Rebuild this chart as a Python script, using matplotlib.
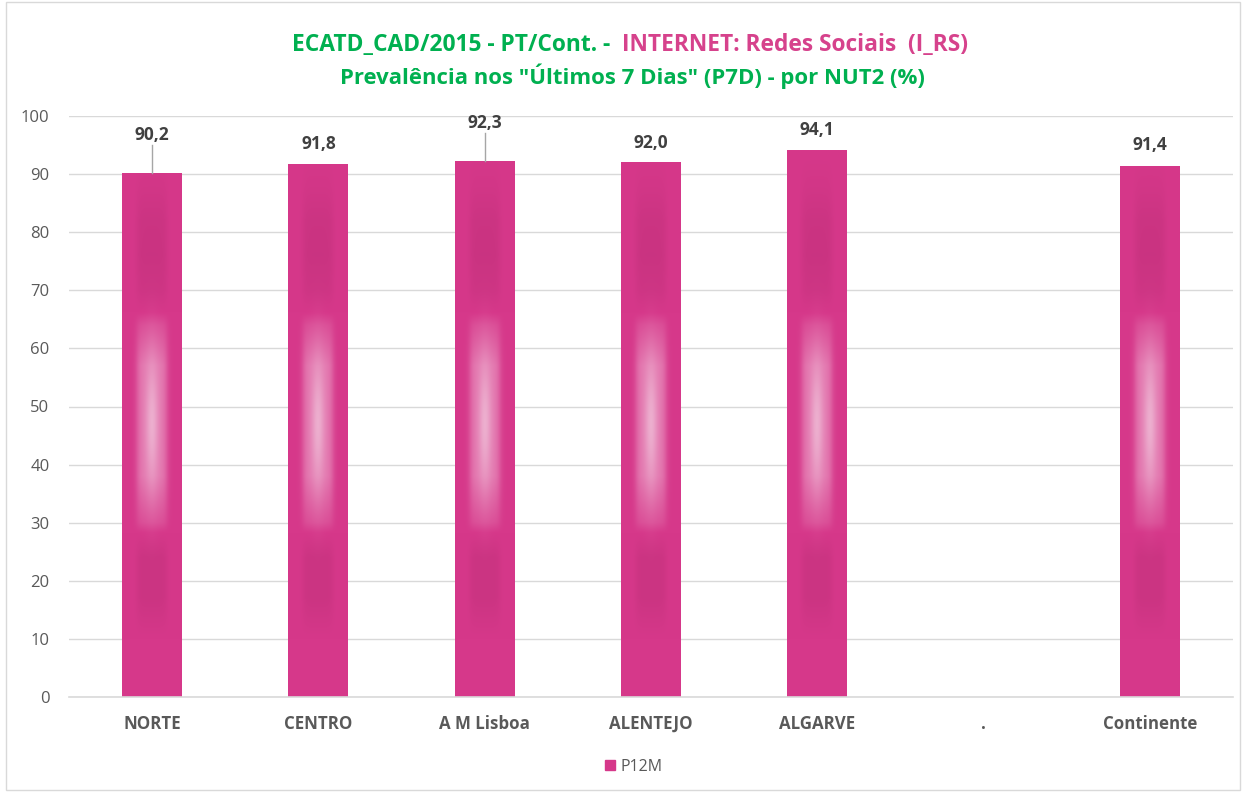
import numpy as np
import matplotlib
matplotlib.use("Agg")
import matplotlib.pyplot as plt
from matplotlib.patches import Rectangle, Patch
from matplotlib.colors import to_rgb

# ---- data ----
categories = ["NORTE", "CENTRO", "A M Lisboa", "ALENTEJO", "ALGARVE", ".", "Continente"]
values = [90.2, 91.8, 92.3, 92.0, 94.1, None, 91.4]
series_name = "P12M"
yticks = [0, 10, 20, 30, 40, 50, 60, 70, 80, 90, 100]
title_l1_a = "ECATD_CAD/2015 - PT/Cont. -  "
title_l1_b = "INTERNET: Redes Sociais  (I_RS)"
title_l2 = 'Prevalência nos "Últimos 7 Dias" (P7D) - por NUT2 (%)'

# label offsets above bar top (pixels) and leader lines
label_offset_px = [38, 20, 38, 19, 20, 0, 21]
leader = [True, False, True, False, False, False, False]

GREEN = "#00B050"
PINK_T = "#D6428C"
BASE = np.array(to_rgb("#D6388A"))
DARK = np.array(to_rgb("#B02A6E"))
WHITE = np.array([1.0, 1.0, 1.0])
GRAY = "#595959"
GRID = "#D9D9D9"

W, H = 1246, 792
fig = plt.figure(figsize=(W / 100, H / 100), dpi=100)
fig.patch.set_facecolor("white")
ax = fig.add_axes([69 / W, 1 - 697 / H, (1233 - 69) / W, (697 - 116) / H])

n = len(categories)
ax.set_xlim(-0.5, n - 0.5)
ax.set_ylim(0, 100)
ax.set_yticks(yticks)
ax.set_yticklabels([str(t) for t in yticks], fontsize=12, color=GRAY, family="Open Sans")
ax.set_xticks(range(n))
ax.set_xticklabels(categories, fontsize=12.2, color=GRAY, fontweight="bold", family="Open Sans")
ax.tick_params(axis="both", length=0)
ax.tick_params(axis="y", pad=14)
ax.tick_params(axis="x", pad=13)
for s in ["top", "right", "left"]:
    ax.spines[s].set_visible(False)
ax.spines["bottom"].set_color(GRID)
ax.spines["bottom"].set_linewidth(1.2)
ax.yaxis.grid(True, color=GRID, linewidth=1.0)
ax.set_axisbelow(True)

bw = 0.36

# gradient texture
nx, ny = 80, 400
u = np.linspace(-1, 1, nx)
m_col = 1.0 / (1.0 + np.exp((np.abs(u) - 0.5) / 0.06))  # inner column mask
vk = [0, 10, 17, 24, 30, 38, 57, 64, 70, 76, 82, 88, 94, 100]
fk = [0, 0, -0.28, -0.28, 0.12, 0.32, 0.32, 0.12, -0.22, -0.32, -0.28, -0.1, 0, 0]


def texture(top):
    v = np.linspace(0, top, ny)
    f = np.interp(v, vk, fk)
    F = f[:, None] * m_col[None, :]
    hl = 0.55 * np.exp(-((v[:, None] - 47) / 11) ** 2) * np.exp(-(u[None, :] / 0.22) ** 2)
    img = np.tile(BASE, (ny, nx, 1))
    pos = np.clip(F, 0, None)[..., None]
    neg = np.clip(-F, 0, None)[..., None]
    img = img * (1 - pos) + WHITE * pos
    img = img * (1 - neg) + DARK * neg
    hh = hl[..., None]
    img = img * (1 - hh) + np.array(to_rgb("#F4DCE8")) * hh
    return np.clip(img, 0, 1)


px_per_unit = (697 - 116) / 100.0
for i, val in enumerate(values):
    if val is None:
        continue
    rect = Rectangle((i - bw / 2, 0), bw, val, facecolor="none", edgecolor="none")
    ax.add_patch(rect)
    im = ax.imshow(texture(val), extent=(i - bw / 2, i + bw / 2, 0, val), origin="lower",
                   aspect="auto", interpolation="bilinear", zorder=2)
    im.set_clip_path(rect)
    off = label_offset_px[i] / px_per_unit
    ax.text(i, val + off, f"{val:.1f}".replace(".", ","), ha="center", va="center",
            fontsize=12.5, fontweight="bold", color="#404040", family="Open Sans", zorder=4)
    if leader[i]:
        ax.plot([i, i], [val + off - 10 / px_per_unit, val], color="#A6A6A6", lw=1.0, zorder=3)

ax.set_xlim(-0.5, n - 0.5)
ax.set_ylim(0, 100)

# legend
h = Patch(facecolor="#D6388A", edgecolor="#D6388A", label=series_name)
leg = fig.legend(handles=[h], loc="center", bbox_to_anchor=(634 / W, 1 - 767 / H), frameon=False,
                 handlelength=0.6, handleheight=0.6, handletextpad=0.4,
                 prop={"family": "Open Sans", "size": 11.5})
for t in leg.get_texts():
    t.set_color(GRAY)

# title
fig.canvas.draw()
r = fig.canvas.get_renderer()
tfont = dict(family="Open Sans", fontweight="bold", fontsize=16.4)
ta = fig.text(0, 1 - 45 / H, title_l1_a, color=GREEN, va="center", ha="left", **tfont)
tb = fig.text(0, 1 - 45 / H, title_l1_b, color=PINK_T, va="center", ha="left", **tfont)
wa = ta.get_window_extent(r).width
wb = tb.get_window_extent(r).width
x0 = 630 - (wa + wb) / 2
ta.set_x(x0 / W)
tb.set_x((x0 + wa) / W)
fig.text(632 / W, 1 - 76 / H, title_l2, color=GREEN, va="center", ha="center",
         family="Open Sans", fontweight="bold", fontsize=15.9)

# figure border
fig.patches.append(Rectangle((6 / W, 2 / H), (1240 - 6) / W, (790 - 2) / H, transform=fig.transFigure,
                             facecolor="none", edgecolor="#D9D9D9", lw=1.0))

fig.savefig("out.png", dpi=100)
